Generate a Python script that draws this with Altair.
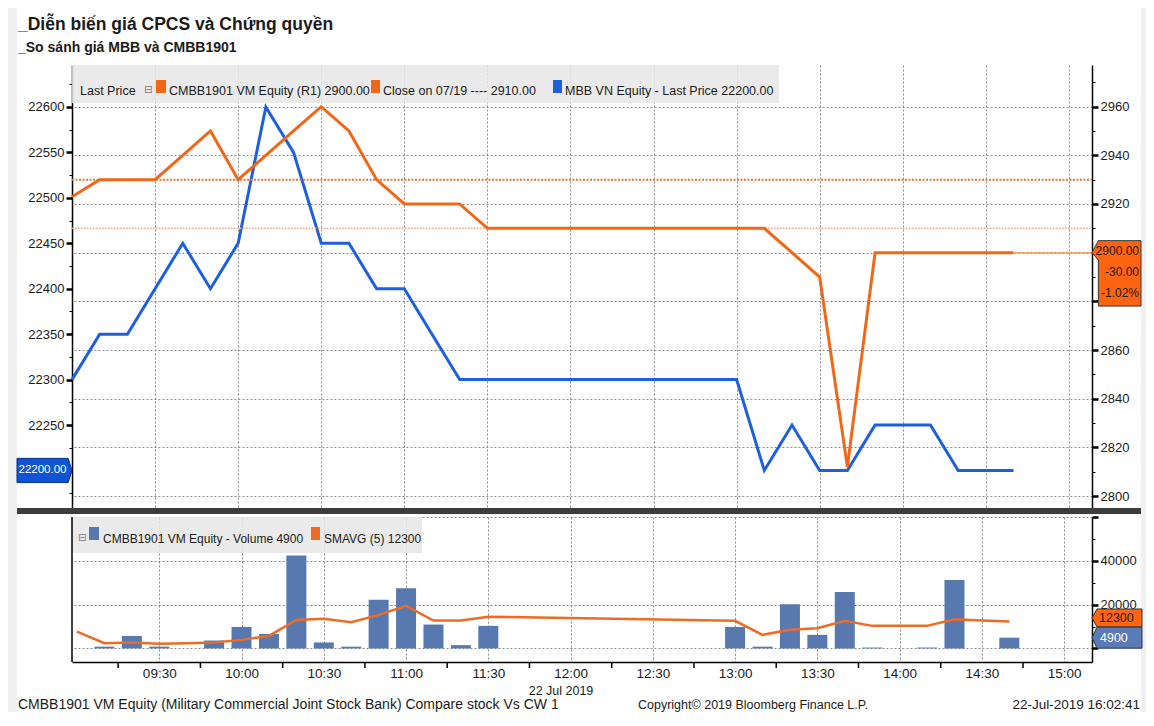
import altair as alt
import pandas as pd

# ---------------- data ----------------
price_time = ["09:00", "09:10", "09:20", "09:30", "09:40", "09:50", "10:00", "10:10", "10:20", "10:30",
              "10:40", "10:50", "11:00", "11:10", "11:20", "11:30", "13:00", "13:10", "13:20", "13:30",
              "13:40", "13:50", "14:00", "14:10", "14:20", "14:30", "14:40"]
mbb_price = [22300, 22350, 22350, 22400, 22450, 22400, 22450, 22600, 22550, 22450,
             22450, 22400, 22400, 22350, 22300, 22300, 22300, 22200, 22250, 22200,
             22200, 22250, 22250, 22250, 22200, 22200, 22200]
cw_price = [2923, 2930, 2930, 2930, 2940, 2950, 2930, 2940, 2950, 2960,
            2950, 2930, 2920, 2920, 2920, 2910, 2910, 2910, 2900, 2890,
            2812, 2900, 2900, 2900, 2900, 2900, 2900]
prev_close = 2930
close_0719 = 2910

vol_time = ["09:10", "09:20", "09:30", "09:50", "10:00", "10:10", "10:20", "10:30", "10:40", "10:50",
            "11:00", "11:10", "11:20", "11:30", "13:00", "13:10", "13:20", "13:30", "13:40", "13:50",
            "14:10", "14:20", "14:40"]
volume = [800, 5700, 800, 3600, 9800, 6600, 42400, 2700, 800, 22200,
          27500, 10900, 1500, 10300, 9800, 800, 20200, 6200, 25800, 400,
          400, 31200, 4900]
sma_value = [7700, 2400, 2700, 2100, 2400, 2700, 3900, 5700, 13000, 13500,
             12000, 15300, 19400, 12700, 12700, 14500, 12600, 6200, 8500, 9200,
             12600, 10300, 10300, 10300, 13300, 12800, 12300]

x_label_times = ["09:30", "10:00", "10:30", "11:00", "11:30", "12:00", "12:30",
                 "13:00", "13:30", "14:00", "14:30", "15:00"]
minor_tick_times = ["09:15", "09:45", "10:15", "10:45", "11:15", "11:45",
                    "12:15", "12:45", "13:15", "13:45", "14:15", "14:45"]

# ---------------- style ----------------
FONT = "'Liberation Sans', Arial, sans-serif"
TXT = "#1a1a1a"
GRID = "#8a8a8a"
BLUE = "#1c5fdf"
ORANGE = "#f2661a"
VOLBLUE = "#5779b0"
SMA_OR = "#ee6b25"
GRAY_BG = "#f0f0f0"
W, HT, HB = 1020, 443, 145
AX_FS = 13


def ts(t):
    return pd.Timestamp("2019-07-22 " + t + ":00")


def dt(t, s=0):
    h, m = map(int, t.split(":"))
    return alt.DateTime(year=2019, month=7, date=22, hours=h, minutes=m, seconds=s)


def cond(test, a, b):
    return {"condition": {"test": test, "value": a}, "value": b}


ONE = pd.DataFrame({"k": [0]})


def rect(x, x2, y, y2, color, opacity=1.0):
    return alt.Chart(ONE).mark_rect(color=color, opacity=opacity).encode(
        x=alt.value(x), x2=alt.value(x2), y=alt.value(y), y2=alt.value(y2))


def label(s, x, y, size=12.5, color=TXT, weight="normal", align="left", font=FONT):
    return alt.Chart(ONE).mark_text(text=s, font=font, fontSize=size, fontWeight=weight,
                                    color=color, align=align, baseline="alphabetic").encode(
        x=alt.value(x), y=alt.value(y))


price_df = pd.DataFrame({"t": [ts(t) for t in price_time], "mbb": mbb_price, "cw": cw_price})
vol_df = pd.DataFrame({"t": [ts(t) for t in vol_time], "vol": volume})
sma_df = pd.DataFrame({"t": [ts(t) for t in price_time], "s": sma_value})
minor_df = pd.DataFrame({"t": [ts(t) for t in minor_tick_times]})

x_scale = alt.Scale(domain=[dt("09:00"), dt("15:08", 20)])
x_vals = [dt(t) for t in x_label_times]
grid_kw = dict(gridColor=GRID, gridDash=[2, 2], gridWidth=1)

ax_x_top = alt.Axis(values=x_vals, labels=False, ticks=False, domain=False, grid=True, title=None, **grid_kw)
ax_x_bot = alt.Axis(values=x_vals, format="%H:%M", labelFont=FONT, labelFontSize=13.5, labelColor=TXT,
                    ticks=False, tickSize=0, labelPadding=4, labelFlush=False, domain=True,
                    domainColor="#000", domainWidth=1.5, grid=True, title=None, **grid_kw)
X_top = alt.X("t:T", scale=x_scale, axis=ax_x_top)
X_bot = alt.X("t:T", scale=x_scale, axis=ax_x_bot)

left_scale = alt.Scale(domain=[22158.7, 22646.2], nice=False, zero=False)
right_scale = alt.Scale(domain=[2795.1, 2977.1], nice=False, zero=False)
vol_scale = alt.Scale(domain=[-6200, 60000], nice=False, zero=False)

ax_left = alt.Axis(orient="left", title=None, values=list(range(22175, 22626, 25)), format="d",
                   labelExpr="(datum.value % 50 == 0 && datum.value != 22200) ? datum.label : ''",
                   labelFont=FONT, labelFontSize=AX_FS, labelColor=TXT, labelPadding=2,
                   labelOverlap=False, labelFlush=False, grid=False,
                   domain=True, domainColor="#000", domainWidth=1.5, ticks=True, tickColor="#000",
                   tickSize=cond("datum.value % 50 == 0", 6, 3),
                   tickWidth=cond("datum.value % 50 == 0", 2.5, 1))
# labels at 2880/2900 sit under the last-price tag, as in the reference
ax_right = alt.Axis(orient="right", title=None, values=list(range(2800, 2971, 10)), format="d",
                    labelExpr="(datum.value % 20 == 0 && datum.value != 2880 && datum.value != 2900) ? datum.label : ''",
                    labelFont=FONT, labelFontSize=AX_FS, labelColor=TXT, labelPadding=2,
                    labelOverlap=False, labelFlush=False, grid=True,
                    gridOpacity=cond("datum.value % 20 == 0", 1, 0), **grid_kw,
                    domain=True, domainColor="#000", domainWidth=1.5, ticks=True, tickColor="#000",
                    tickSize=cond("datum.value % 20 == 0", 6, 3),
                    tickWidth=cond("datum.value % 20 == 0", 2.5, 1))
ax_vol = alt.Axis(orient="right", title=None, values=list(range(0, 60001, 10000)), format="d",
                  labelExpr="(datum.value % 20000 == 0 && datum.value > 0 && datum.value < 60000) ? datum.label : ''",
                  labelFont=FONT, labelFontSize=AX_FS, labelColor=TXT, labelPadding=2,
                  labelOverlap=False, labelFlush=False, grid=True,
                  gridOpacity=cond("datum.value % 20000 == 0", 1, 0), **grid_kw,
                  domain=True, domainColor="#000", domainWidth=1.5, ticks=True, tickColor="#000",
                  tickSize=cond("datum.value % 20000 == 0", 6, 3),
                  tickWidth=cond("datum.value % 20000 == 0", 2.5, 1))

YL = alt.Y("mbb:Q", scale=left_scale, axis=ax_left)
YR = alt.Y("cw:Q", scale=right_scale, axis=ax_right)

# ---------------- top panel ----------------
blue_line = alt.Chart(price_df).mark_line(color=BLUE, strokeWidth=3).encode(x=X_top, y=YL)
blue_tag_df = pd.DataFrame({"mbb": [mbb_price[-1]], "lbl": [f"{mbb_price[-1]:.2f}"]})
TAG_RIGHT = "M-1,-0.44 L0.86,-0.44 L1,0 L0.86,0.44 L-1,0.44 Z"
blue_tag = alt.Chart(blue_tag_df).mark_point(shape=TAG_RIGHT, size=55 ** 2, filled=True, fill="#0d55d6",
                                             stroke="#0a2f80", strokeWidth=1, opacity=1).encode(
    x=alt.value(-27.5), y=YL)
blue_tag_txt = alt.Chart(blue_tag_df).mark_text(font=FONT, fontSize=11.5, color="#ffffff", align="center",
                                                baseline="middle").encode(
    x=alt.value(-29.5), y=YL, text="lbl:N")
blue_group = alt.layer(blue_line, blue_tag, blue_tag_txt)

orange_line = alt.Chart(price_df).mark_line(color=ORANGE, strokeWidth=3).encode(x=X_top, y=YR)
prev_rule = alt.Chart(pd.DataFrame({"cw": [prev_close]})).mark_rule(
    color="#ec7430", strokeWidth=2, strokeDash=[2, 1.5]).encode(x=alt.value(0), x2=alt.value(W), y=YR)
close_rule = alt.Chart(pd.DataFrame({"cw": [close_0719]})).mark_rule(
    color="#f6a585", strokeWidth=1.5, strokeDash=[1.5, 1.5]).encode(x=alt.value(0), x2=alt.value(W), y=YR)
last_rule = alt.Chart(pd.DataFrame({"t": [ts(price_time[-1])], "cw": [cw_price[-1]]})).mark_rule(
    color="#f3a06a", strokeWidth=1.5).encode(x=X_top, x2=alt.value(W), y=YR)
chg = cw_price[-1] - prev_close
orange_tag_df = pd.DataFrame({"cw": [cw_price[-1]],
                              "lbl": [f"{cw_price[-1]:.2f}\n{chg:.2f}\n{chg / prev_close * 100:.2f}%"]})
TAG_LEFT_TALL = "M-1,0 L-0.74,-0.49 L1,-0.49 L1,2.18 L-0.74,2.18 L-0.74,0.3 Z"
orange_tag = alt.Chart(orange_tag_df).mark_point(shape=TAG_LEFT_TALL, size=49 ** 2, filled=True,
                                                 fill="#ff6410", stroke="#333333", strokeWidth=1,
                                                 opacity=1).encode(x=alt.value(1044.5), y=YR)
orange_tag_txt = alt.Chart(orange_tag_df).mark_text(font=FONT, fontSize=12, color="#1a1a1a", align="right",
                                                    baseline="top", dy=-6.5, lineBreak="\n",
                                                    lineHeight=21).encode(
    x=alt.value(1067), y=YR, text="lbl:N")
orange_group = alt.layer(prev_rule, close_rule, orange_line, last_rule, orange_tag, orange_tag_txt)

top = alt.layer(
    rect(-64, -55, -57, 647, GRAY_BG),
    rect(1069, 1074, -57, 647, GRAY_BG),
    rect(0, 707, 0, 38, "#e6e6e6", 0.85),
    blue_group,
    orange_group,
    rect(-55, 1069, 443, 449, "#3d3d3d"),
    label("_Diễn biến giá CPCS và Chứng quyền", -54, -35, size=17.5, weight="bold"),
    label("_So sánh giá MBB và CMBB1901", -54, -13, size=14, weight="bold"),
    label("Last Price", 8, 30),
    label("⊟", 72, 28, size=10, color="#777777", font="DejaVu Sans"),
    rect(84, 94, 15, 28, ORANGE),
    label(f"CMBB1901 VM Equity (R1) {cw_price[-1]:.2f}", 97, 30),
    rect(299, 308, 15, 28, ORANGE),
    label(f"Close on 07/19 ---- {close_0719:.2f}", 311, 30),
    rect(481, 490, 15, 28, BLUE),
    label(f"MBB VN Equity - Last Price {mbb_price[-1]:.2f}", 493, 30),
).resolve_scale(y="independent").properties(width=W, height=HT)

# ---------------- volume panel ----------------
YV = alt.Y("vol:Q", scale=vol_scale, axis=ax_vol)
YS = alt.Y("s:Q", scale=vol_scale, axis=ax_vol)
bars = alt.Chart(vol_df).mark_bar(color=VOLBLUE, width=20).encode(x=X_bot, y=YV)
sma_line = alt.Chart(sma_df).mark_line(color=SMA_OR, strokeWidth=2.5).encode(x=X_bot, y=YS)
minor_ticks = alt.Chart(minor_df).mark_rule(color="#000", strokeWidth=1.5).encode(
    x=X_bot, y=alt.value(HB), y2=alt.value(HB + 6))
left_edge = alt.Chart(ONE).mark_rule(color="#000", strokeWidth=1.5).encode(
    x=alt.value(0), y=alt.value(0), y2=alt.value(HB))

TAG_LEFT_S = "M-1,0 L-0.8,-0.36 L1,-0.36 L1,0.36 L-0.8,0.36 Z"
TAG_LEFT_M = "M-1,0 L-0.8,-0.42 L1,-0.42 L1,0.42 L-0.8,0.42 Z"
sma_tag_df = pd.DataFrame({"s": [sma_value[-1]], "lbl": [str(sma_value[-1])]})
vol_tag_df = pd.DataFrame({"vol": [volume[-1]], "lbl": [str(volume[-1])]})
sma_tag = alt.Chart(sma_tag_df).mark_point(shape=TAG_LEFT_S, size=50 ** 2, filled=True, fill="#ff6410",
                                           stroke="#333333", strokeWidth=1, opacity=1, yOffset=-3.5).encode(
    x=alt.value(1045), y=YS)
sma_tag_txt = alt.Chart(sma_tag_df).mark_text(font=FONT, fontSize=12.5, color="#1a1a1a", align="left",
                                              baseline="middle", dy=-3.5).encode(
    x=alt.value(1027), y=YS, text="lbl:N")
vol_tag = alt.Chart(vol_tag_df).mark_point(shape=TAG_LEFT_M, size=50 ** 2, filled=True, fill="#5a7bb5",
                                           stroke="#223355", strokeWidth=1, opacity=1).encode(
    x=alt.value(1045), y=YV)
vol_tag_txt = alt.Chart(vol_tag_df).mark_text(font=FONT, fontSize=12.5, color="#ffffff", align="left",
                                              baseline="middle").encode(
    x=alt.value(1028), y=YV, text="lbl:N")

bottom = alt.layer(
    rect(0, 350, 0, 36, "#e6e6e6", 0.85),
    bars,
    sma_line,
    minor_ticks,
    left_edge,
    sma_tag, sma_tag_txt, vol_tag, vol_tag_txt,
    label("⊟", 6, 24, size=10, color="#777777", font="DejaVu Sans"),
    rect(17, 27, 10, 23, VOLBLUE),
    label(f"CMBB1901 VM Equity - Volume {volume[-1]}", 31, 26, size=12),
    rect(239, 248, 10, 23, SMA_OR),
    label(f"SMAVG (5) {sma_value[-1]}", 252, 26, size=12),
    label("22 Jul 2019", 489, 177.5, size=12.5, align="center"),
    label("CMBB1901 VM Equity (Military Commercial Joint Stock Bank) Compare stock Vs CW 1", -54, 192, size=14),
    label("Copyright© 2019 Bloomberg Finance L.P.", 566, 192, size=12.5),
    label("22-Jul-2019 16:02:41", 1068, 192, size=13.5, align="right"),
).properties(width=W, height=HB)

chart = alt.vconcat(top, bottom, spacing=9, bounds="flush").properties(
    padding=0, background="#ffffff").configure_view(strokeWidth=0)

chart.save("out.html", embed_options={"renderer": "svg", "actions": False})
